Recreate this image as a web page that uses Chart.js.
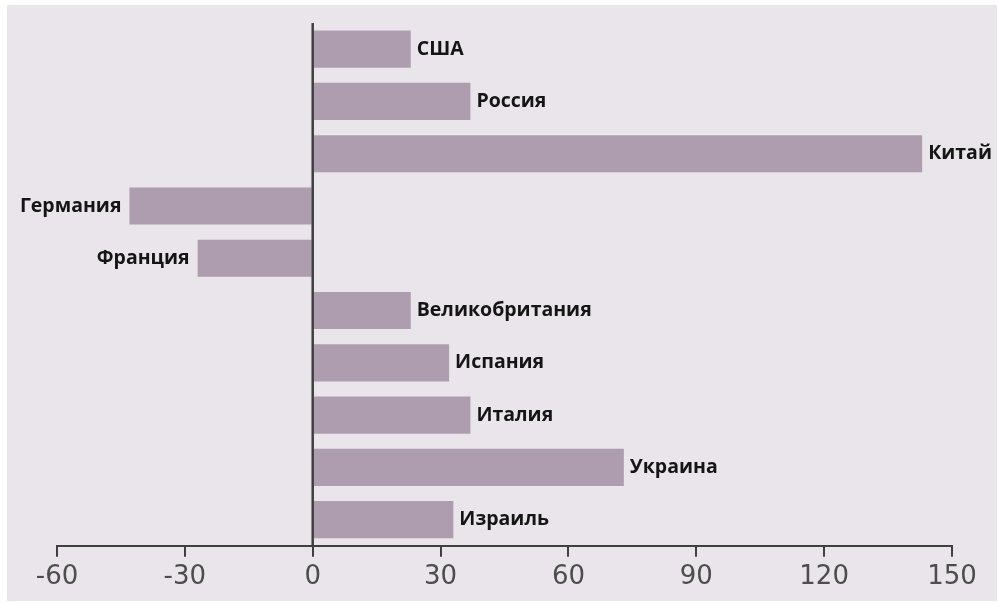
<!DOCTYPE html>
<html>
<head>
<meta charset="utf-8">
<script src="https://cdn.jsdelivr.net/npm/chart.js@4"></script>
<style>
  html, body { margin: 0; padding: 0; background: #ffffff; }
  #wrap { width: 999px; height: 603px; }
</style>
</head>
<body>
<div id="wrap"><canvas id="chart"></canvas></div>
<script>
const countries = ['США', 'Россия', 'Китай', 'Германия', 'Франция', 'Великобритания', 'Испания', 'Италия', 'Украина', 'Израиль'];
const values = [23, 37, 143, -43, -27, 23, 32, 37, 73, 33];
const axisMin = -60;
const axisMax = 150;
const axisStep = 30;

const panelBg = {
  id: 'panelBg',
  beforeDraw(chart) {
    const ctx = chart.ctx;
    ctx.save();
    ctx.fillStyle = '#e9e5ea';
    ctx.fillRect(7, 5, 990, 596);
    ctx.restore();
  }
};

// vertical line at zero + country names next to each bar
const barLabels = {
  id: 'barLabels',
  afterDatasetsDraw(chart) {
    const ctx = chart.ctx;
    const x0 = chart.scales.x.getPixelForValue(0);
    const area = chart.chartArea;
    ctx.save();
    ctx.strokeStyle = '#3f3f3f';
    ctx.lineWidth = 2.5;
    ctx.beginPath();
    ctx.moveTo(x0, area.top);
    ctx.lineTo(x0, area.bottom);
    ctx.stroke();

    ctx.font = 'bold 19.5px "Open Sans"';
    ctx.fillStyle = '#151515';
    ctx.textBaseline = 'middle';
    chart.getDatasetMeta(0).data.forEach((bar, i) => {
      if (values[i] >= 0) {
        ctx.textAlign = 'left';
        ctx.fillText(countries[i], bar.x + 6, bar.y);
      } else {
        ctx.textAlign = 'right';
        ctx.fillText(countries[i], bar.x - 8, bar.y);
      }
    });
    ctx.restore();
  }
};

new Chart(document.getElementById('chart'), {
  type: 'bar',
  data: {
    labels: countries,
    datasets: [{
      data: values,
      backgroundColor: '#ae9daf',
      borderWidth: 0,
      barPercentage: 0.71,
      categoryPercentage: 1.0
    }]
  },
  options: {
    indexAxis: 'y',
    responsive: true,
    maintainAspectRatio: false,
    animation: false,
    layout: { padding: { left: 57, right: 47, top: 23, bottom: 5 } },
    plugins: {
      legend: { display: false },
      tooltip: { enabled: false }
    },
    scales: {
      y: { display: false },
      x: {
        min: axisMin,
        max: axisMax,
        ticks: {
          stepSize: axisStep,
          padding: 5,
          color: '#4d4d4d',
          font: { family: '"DejaVu Sans"', size: 26 }
        },
        grid: {
          drawOnChartArea: false,
          drawTicks: true,
          tickLength: 11,
          color: '#3f3f3f',
          lineWidth: 2
        },
        border: { display: true, color: '#3f3f3f', width: 2 }
      }
    }
  },
  plugins: [panelBg, barLabels]
});
</script>
</body>
</html>
